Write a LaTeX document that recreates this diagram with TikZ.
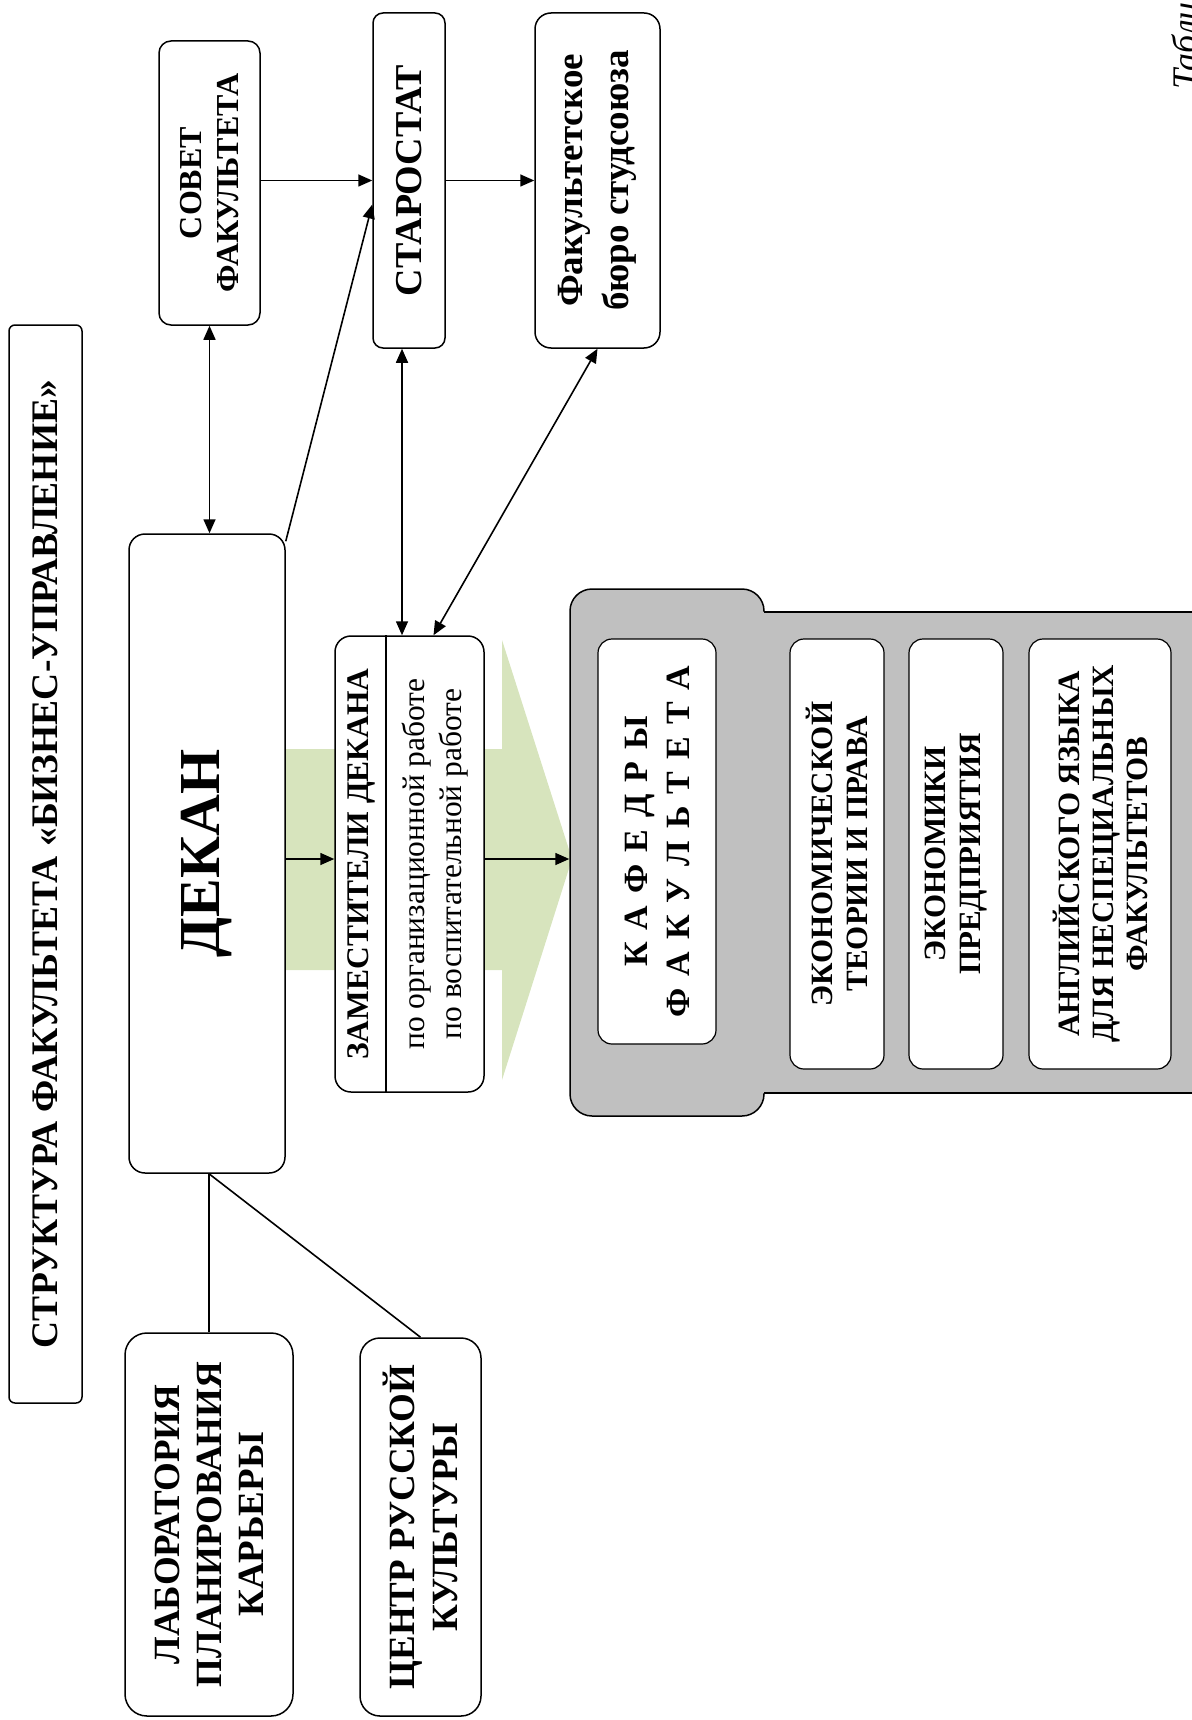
\documentclass[tikz,border=0pt]{standalone}
\usepackage{fontspec}
\setmainfont{Liberation Serif}
\usetikzlibrary{arrows.meta,fit,calc}
\definecolor{lgreen}{HTML}{D7E4BD}
\definecolor{silver}{HTML}{C0C0C0}
\newcommand\kafspace{\spaceskip=12pt plus 0pt\relax}
\begin{document}
\begin{tikzpicture}[x=1pt,y=-1pt,
  box/.style={draw, line width=1.5pt, rounded corners=#1, inner sep=0pt, fill=white},
  box/.default=14pt,
  ibox/.style={draw, line width=1.2pt, rounded corners=14pt, inner sep=0pt, fill=white},
  lbl/.style={rotate=90, align=center, inner sep=0pt},
  ln/.style={line width=1.6pt},
  arr/.style={line width=1.6pt, -{Triangle[length=14pt,width=12pt]}},
  darr/.style={line width=1.6pt, {Triangle[length=14pt,width=12pt]}-{Triangle[length=14pt,width=12pt]}},
]
\useasboundingbox (0,0) rectangle (1191,1720);

% green arrow (background)
\fill[lgreen] (285,749) -- (502,749) -- (502,640) -- (572,859) -- (502,1080) -- (502,970) -- (285,970) -- cycle;

% title
\node[box=6pt, fit={(9,325) (82,1403)}] (title) {};
\node[lbl, font=\bfseries\fontsize{37.5}{42}\selectfont] (titletext) at (title) {СТРУКТУРА ФАКУЛЬТЕТА «БИЗНЕС-УПРАВЛЕНИЕ»};

% top boxes
\node[box=12pt, fit={(159,41) (260,325)}] (sovet) {};
\node[lbl, font=\bfseries\fontsize{32}{37}\selectfont] (sovettext) at (sovet) {СОВЕТ\\ФАКУЛЬТЕТА};

\node[box=10pt, fit={(373,13) (445,348)}] (starost) {};
\node[lbl, font=\bfseries\fontsize{38}{44}\selectfont] (starosttext) at (starost) {СТАРОСТАТ};

\node[box=16pt, fit={(535,13) (660,348)}] (fakb) {};
\node[lbl, font=\bfseries\fontsize{37}{46}\selectfont] (fakbtext) at (fakb) {Факультетское\\бюро студсоюза};

% dean
\node[box=16pt, fit={(129,534) (285,1173)}] (dekan) {};
\node[lbl, font=\bfseries\fontsize{58}{64}\selectfont] (dekantext) at (dekan) {ДЕКАН};

% deputies
\node[box=16pt, fit={(335,636) (484,1092)}] (zam) {};
\draw[line width=1.2pt] (zam.north -| 386,0) -- (zam.south -| 386,0);
\node[lbl, font=\bfseries\fontsize{31.5}{36}\selectfont] (zamtitle) at (361,864) {ЗАМЕСТИТЕЛИ ДЕКАНА};
\node[lbl, font=\fontsize{31.5}{37}\selectfont] (zamtext) at (435,864) {по организационной работе\\по воспитательной работе};

% departments group
\node[draw, line width=1.5pt, fill=silver, rounded corners=22pt, inner sep=0pt, fit={(570,589) (764,1116)}] (tab) {};
\fill[silver] (763,612) rectangle (1195,1093);
\draw[ln] (764,612) -- (1195,612);
\draw[ln] (764,1093) -- (1195,1093);

\node[ibox, fit={(598,639) (716,1044)}] (kaf) {};
\node[lbl, font=\bfseries\fontsize{34}{42}\selectfont\kafspace] (kaftext) at (kaf) {К А Ф Е Д Р Ы\\Ф А К У Л Ь Т Е Т А};

\node[ibox, fit={(790,639) (884,1069)}] (econ) {};
\node[lbl, font=\bfseries\fontsize{31}{35}\selectfont] (econtext) at (econ) {ЭКОНОМИЧЕСКОЙ\\ТЕОРИИ И ПРАВА};

\node[ibox, fit={(909,639) (1003,1069)}] (ekpr) {};
\node[lbl, font=\bfseries\fontsize{31}{35}\selectfont] (ekprtext) at (ekpr) {ЭКОНОМИКИ\\ПРЕДПРИЯТИЯ};

\node[ibox, fit={(1029,639) (1171,1069)}] (engl) {};
\node[lbl, font=\bfseries\fontsize{31}{34}\selectfont] (engltext) at (engl) {АНГЛИЙСКОГО ЯЗЫКА\\ДЛЯ НЕСПЕЦИАЛЬНЫХ\\ФАКУЛЬТЕТОВ};

% bottom boxes
\node[box=22pt, fit={(125,1333) (293,1716)}] (lab) {};
\node[lbl, font=\bfseries\fontsize{37}{42}\selectfont] (labtext) at (lab) {ЛАБОРАТОРИЯ\\ПЛАНИРОВАНИЯ\\КАРЬЕРЫ};

\node[box=20pt, fit={(360,1338) (481,1716)}] (centr) {};
\node[lbl, font=\bfseries\fontsize{37}{43}\selectfont] (centrtext) at (centr) {ЦЕНТР РУССКОЙ\\КУЛЬТУРЫ};

% table caption (cut by page edge, as in the reference)
\node[rotate=90, anchor=base west, inner sep=0pt, font=\itshape\fontsize{36}{42}\selectfont] (tabl) at (1197,90) {Табли};

% connectors
\coordinate (mid) at (0,859);
\draw[darr] (sovet.south) -- (sovet.south |- dekan.north);
\draw[arr] (sovet.east |- starost.west) -- (starost.west);
\draw[arr] (starost.east) -- (starost.east -| fakb.west);
\draw[arr] ([yshift=-8pt]dekan.north east) -- ([yshift=-24pt]starost.west);
\draw[darr] ([xshift=-7pt]starost.south) -- ([xshift=-7pt]starost.south |- zam.north);
\draw[darr] (fakb.south) -- ([xshift=24pt]zam.north);
\draw[arr] (dekan.east |- mid) -- (zam.west |- mid);
\draw[arr] (zam.east |- mid) -- (tab.west |- mid);
\draw[ln] (lab.north) -- (lab.north |- dekan.south);
\draw[ln] (lab.north |- dekan.south) -- (centr.north);
\end{tikzpicture}
\end{document}
